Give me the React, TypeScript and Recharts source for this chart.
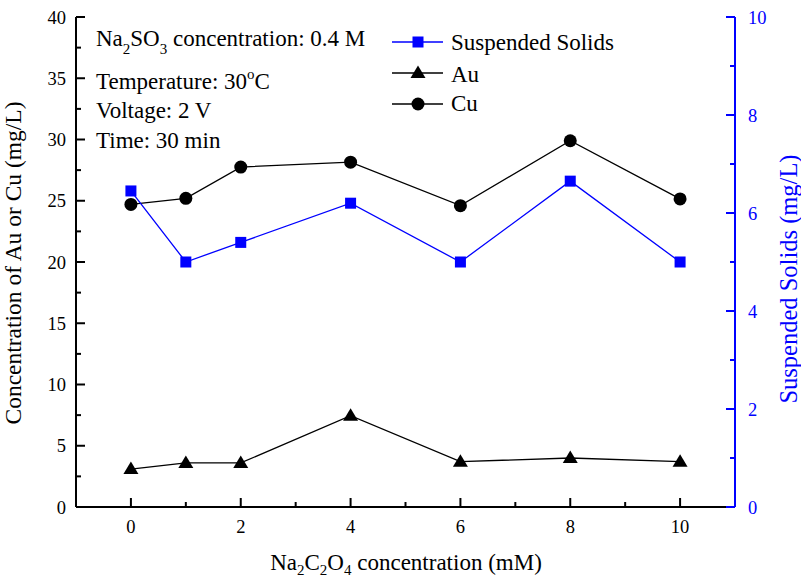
import React from "react";
import { ComposedChart, Line, XAxis, YAxis } from "recharts";

// Na2C2O4 concentration (mM)
const concentration = [0, 1, 2, 4, 6, 8, 10];
// right axis, mg/L
const suspendedSolids = [6.45, 5.0, 5.4, 6.2, 5.0, 6.65, 5.0];
// left axis, mg/L
const auValues = [3.1, 3.6, 3.6, 7.45, 3.7, 4.0, 3.7];
const cuValues = [24.7, 25.2, 27.75, 28.15, 24.6, 29.9, 25.15];

const xTicks = [0, 1, 2, 3, 4, 5, 6, 7, 8, 9, 10];
const xLabels = [0, 2, 4, 6, 8, 10];
const leftTicks = [0, 2.5, 5, 7.5, 10, 12.5, 15, 17.5, 20, 22.5, 25, 27.5, 30, 32.5, 35, 37.5, 40];
const leftLabels = [0, 5, 10, 15, 20, 25, 30, 35, 40];
const rightTicks = [0, 1, 2, 3, 4, 5, 6, 7, 8, 9, 10];
const rightLabels = [0, 2, 4, 6, 8, 10];

const data = concentration.map((c, i) => ({
  conc: c,
  ss: suspendedSolids[i],
  au: auValues[i],
  cu: cuValues[i],
}));

const FONT = '"Liberation Serif", "Times New Roman", serif';
const BLUE = "#0000ff";

function BottomTick(props: any) {
  const { x, y, payload } = props;
  const major = xLabels.includes(payload.value);
  return (
    <g>
      <line x1={x} x2={x} y1={y} y2={y - (major ? 9 : 5)} stroke="#000" strokeWidth={2} />
      {major && (
        <text x={x} y={y + 26} textAnchor="middle" fontFamily={FONT} fontSize={18.5} fill="#000">
          {payload.value}
        </text>
      )}
    </g>
  );
}

function TopTick(props: any) {
  const { x, y, payload } = props;
  const major = xLabels.includes(payload.value);
  return <line x1={x} x2={x} y1={y} y2={y + (major ? 9 : 5)} stroke="#000" strokeWidth={2} />;
}

function LeftTick(props: any) {
  const { x, y, payload } = props;
  const major = leftLabels.includes(payload.value);
  return (
    <g>
      <line x1={x} x2={x + (major ? 9 : 5)} y1={y} y2={y} stroke="#000" strokeWidth={2} />
      {major && (
        <text x={x - 10} y={y + 6.5} textAnchor="end" fontFamily={FONT} fontSize={18.5} fill="#000">
          {payload.value}
        </text>
      )}
    </g>
  );
}

function RightTick(props: any) {
  const { x, y, payload } = props;
  const major = rightLabels.includes(payload.value);
  return (
    <g>
      <line x1={x} x2={x - (major ? 9 : 5)} y1={y} y2={y} stroke={BLUE} strokeWidth={2} />
      {major && (
        <text x={x + 13} y={y + 6.5} textAnchor="start" fontFamily={FONT} fontSize={18.5} fill={BLUE}>
          {payload.value}
        </text>
      )}
    </g>
  );
}

const squareDot = (p: any) => (
  <rect key={`s${p.index}`} x={p.cx - 5.5} y={p.cy - 5.5} width={11} height={11} fill={BLUE} />
);
const triangleDot = (p: any) => (
  <polygon
    key={`t${p.index}`}
    points={`${p.cx},${p.cy - 7.5} ${p.cx + 7.5},${p.cy + 5} ${p.cx - 7.5},${p.cy + 5}`}
    fill="#000"
  />
);
const circleDot = (p: any) => <circle key={`c${p.index}`} cx={p.cx} cy={p.cy} r={6.5} fill="#000" />;

function Overlay() {
  const sub = 15;
  return (
    <svg
      width={801}
      height={579}
      style={{ position: "absolute", left: 0, top: 0, pointerEvents: "none" }}
      fontFamily={FONT}
    >
      {/* conditions */}
      <g fontSize={23} fill="#000">
        <text x={96} y={46}>
          Na<tspan dy={8} fontSize={sub}>2</tspan>
          <tspan dy={-8}>SO</tspan>
          <tspan dy={8} fontSize={sub}>3</tspan>
          <tspan dy={-8}>{" concentration: 0.4 M"}</tspan>
        </text>
        <text x={96} y={89}>
          Temperature: 30<tspan dy={-10} fontSize={sub}>o</tspan>
          <tspan dy={10}>C</tspan>
        </text>
        <text x={96} y={118}>Voltage: 2 V</text>
        <text x={96} y={148}>Time: 30 min</text>
      </g>

      {/* legend */}
      <line x1={392} x2={443} y1={42} y2={42} stroke={BLUE} strokeWidth={1.3} />
      <rect x={412.5} y={36.5} width={11} height={11} fill={BLUE} />
      <line x1={392} x2={443} y1={73} y2={73} stroke="#000" strokeWidth={1.3} />
      <polygon points="418,65.5 425.5,78 410.5,78" fill="#000" />
      <line x1={392} x2={443} y1={104} y2={104} stroke="#000" strokeWidth={1.3} />
      <circle cx={418} cy={104} r={6.5} fill="#000" />
      <g fontSize={23} fill="#000">
        <text x={451} y={50}>Suspended Solids</text>
        <text x={451} y={82}>Au</text>
        <text x={451} y={111}>Cu</text>
      </g>

      {/* axis titles */}
      <text x={406} y={570} textAnchor="middle" fontSize={23} fill="#000">
        Na<tspan dy={5} fontSize={sub}>2</tspan>
        <tspan dy={-5}>C</tspan>
        <tspan dy={5} fontSize={sub}>2</tspan>
        <tspan dy={-5}>O</tspan>
        <tspan dy={5} fontSize={sub}>4</tspan>
        <tspan dy={-5}>{" concentration (mM)"}</tspan>
      </text>
      <text
        x={21}
        y={263}
        textAnchor="middle"
        fontSize={23.5}
        fill="#000"
        transform="rotate(-90, 21, 263)"
      >
        Concentration of Au or Cu (mg/L)
      </text>
      <text
        x={797}
        y={279}
        textAnchor="middle"
        fontSize={24.5}
        fill={BLUE}
        transform="rotate(-90, 797, 279)"
      >
        Suspended Solids (mg/L)
      </text>
    </svg>
  );
}

export default function App() {
  return (
    <div style={{ position: "absolute", left: 0, top: 0, width: 801, height: 579, background: "#fff" }}>
      <ComposedChart width={801} height={579} data={data} margin={{ top: 17, right: 0, bottom: 0, left: 0 }}>
        <XAxis
          dataKey="conc"
          type="number"
          domain={[-1, 11]}
          ticks={xTicks}
          interval={0}
          height={72}
          tickSize={0}
          tickMargin={0}
          tickLine={false}
          axisLine={{ stroke: "#000", strokeWidth: 2 }}
          tick={<BottomTick />}
          allowDataOverflow
        />
        <XAxis
          xAxisId="top"
          orientation="top"
          type="number"
          domain={[-1, 11]}
          ticks={xTicks}
          interval={0}
          height={0}
          tickSize={0}
          tickMargin={0}
          tickLine={false}
          axisLine={{ stroke: "#000", strokeWidth: 2 }}
          tick={<TopTick />}
          allowDataOverflow
        />
        <YAxis
          yAxisId="left"
          type="number"
          domain={[0, 40]}
          ticks={leftTicks}
          interval={0}
          width={76}
          tickSize={0}
          tickMargin={0}
          tickLine={false}
          axisLine={{ stroke: "#000", strokeWidth: 2 }}
          tick={<LeftTick />}
          allowDataOverflow
        />
        <YAxis
          yAxisId="right"
          orientation="right"
          type="number"
          domain={[0, 10]}
          ticks={rightTicks}
          interval={0}
          width={66}
          tickSize={0}
          tickMargin={0}
          tickLine={false}
          axisLine={{ stroke: BLUE, strokeWidth: 2 }}
          tick={<RightTick />}
          allowDataOverflow
        />
        <Line
          yAxisId="left"
          dataKey="cu"
          type="linear"
          stroke="#000"
          strokeWidth={1.3}
          dot={circleDot}
          activeDot={false}
          isAnimationActive={false}
        />
        <Line
          yAxisId="left"
          dataKey="au"
          type="linear"
          stroke="#000"
          strokeWidth={1.3}
          dot={triangleDot}
          activeDot={false}
          isAnimationActive={false}
        />
        <Line
          yAxisId="right"
          dataKey="ss"
          type="linear"
          stroke={BLUE}
          strokeWidth={1.3}
          dot={squareDot}
          activeDot={false}
          isAnimationActive={false}
        />
      </ComposedChart>
      <Overlay />
    </div>
  );
}
